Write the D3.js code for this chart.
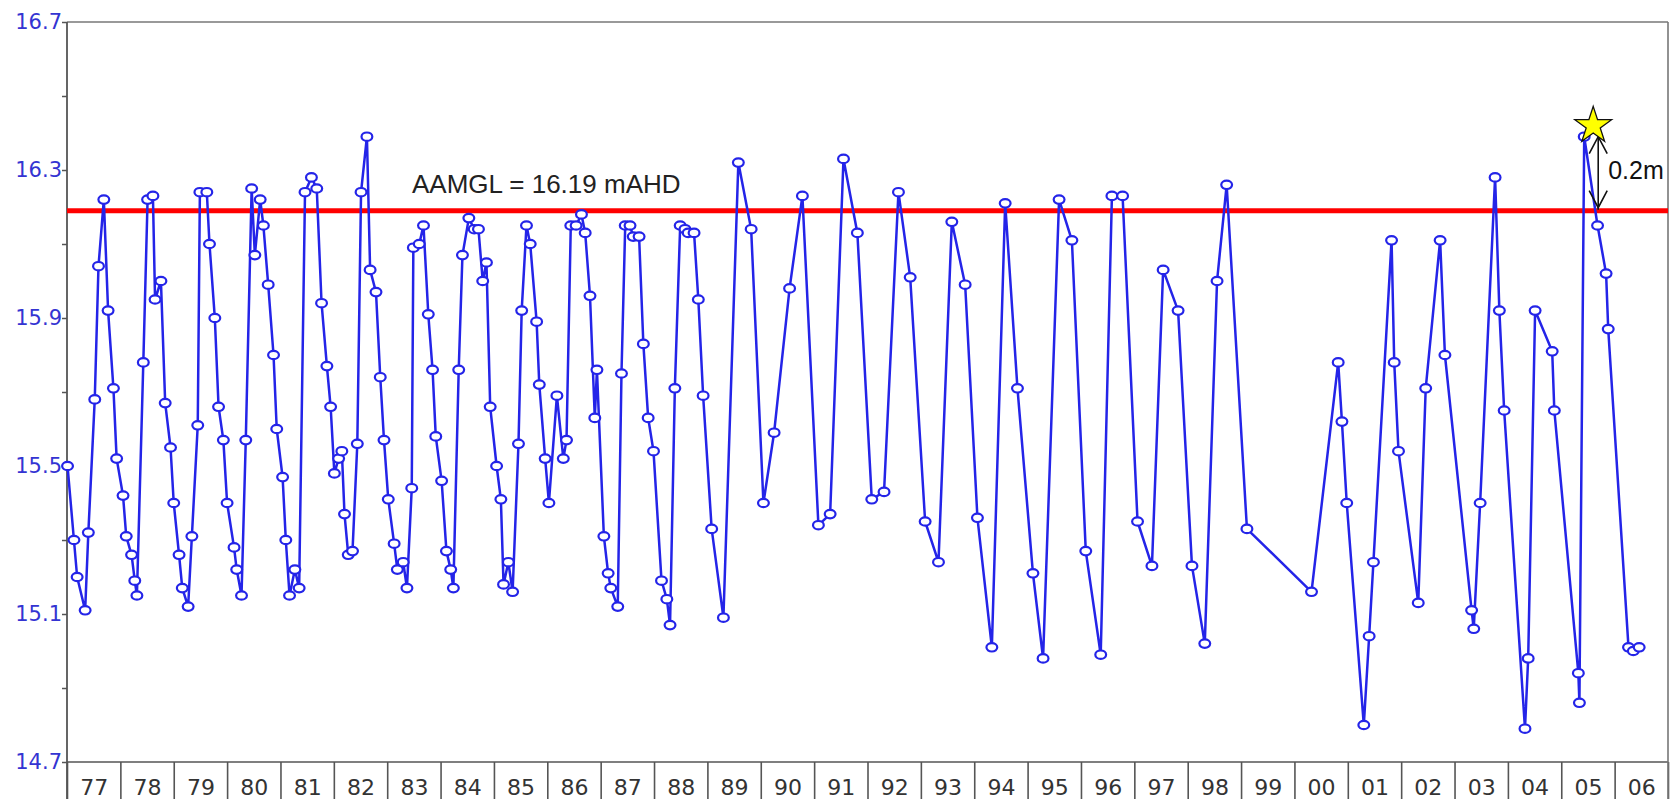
<!DOCTYPE html>
<html>
<head>
<meta charset="utf-8">
<script src="https://cdn.jsdelivr.net/npm/d3@7"></script>
<style>
  html, body { margin: 0; padding: 0; background: #fff; }
  svg { display: block; }
</style>
</head>
<body>
<svg id="chart" width="1677" height="799"></svg>
<script>
// Monitoring bore water level record, 1977 - 2006 (decimal years, mAHD)
const dates = [
  1977.01,1977.13,1977.19,1977.34,1977.40,1977.52,1977.59,1977.69,1977.77,1977.87,1977.93,
  1978.05,1978.11,1978.21,1978.27,1978.31,1978.43,1978.51,1978.61,1978.65,1978.76,1978.84,1978.94,
  1979.00,1979.10,1979.16,1979.27,1979.34,1979.45,1979.49,1979.62,1979.67,1979.77,1979.84,1979.93,
  1980.00,1980.13,1980.18,1980.27,1980.35,1980.46,1980.52,1980.62,1980.68,1980.77,1980.87,1980.93,
  1981.04,1981.10,1981.17,1981.27,1981.35,1981.46,1981.58,1981.68,1981.77,1981.87,1981.94,
  1982.01,1982.09,1982.15,1982.20,1982.27,1982.35,1982.44,1982.51,1982.62,1982.68,1982.79,1982.87,1982.94,
  1983.02,1983.13,1983.19,1983.30,1983.37,1983.46,1983.49,1983.60,1983.68,1983.77,1983.85,1983.91,
  1984.02,1984.11,1984.19,1984.24,1984.34,1984.41,1984.53,1984.63,1984.71,1984.79,1984.86,1984.93,
  1985.05,1985.13,1985.18,1985.27,1985.35,1985.46,1985.52,1985.61,1985.68,1985.80,1985.85,1985.96,
  1986.03,1986.18,1986.30,1986.36,1986.44,1986.54,1986.64,1986.71,1986.80,1986.89,1986.93,
  1987.06,1987.14,1987.19,1987.32,1987.39,1987.46,1987.55,1987.61,1987.72,1987.80,1987.89,1987.99,
  1988.14,1988.24,1988.30,1988.39,1988.49,1988.58,1988.64,1988.75,1988.83,1988.92,
  1989.08,1989.30,1989.58,1989.82,
  1990.05,1990.25,1990.54,1990.78,
  1991.08,1991.30,1991.55,1991.81,
  1992.08,1992.31,1992.58,1992.80,
  1993.08,1993.33,1993.58,1993.83,
  1994.06,1994.33,1994.58,1994.81,
  1995.10,1995.29,1995.59,1995.83,
  1996.09,1996.37,1996.58,1996.78,
  1997.06,1997.33,1997.54,1997.82,
  1998.08,1998.32,1998.55,1998.73,
  1999.11,
  2000.32,2000.82,2000.89,2000.98,
  2001.30,2001.40,2001.48,2001.82,2001.87,2001.95,
  2002.32,2002.46,2002.73,2002.82,
  2003.32,2003.36,2003.48,2003.76,2003.84,2003.93,
  2004.32,2004.38,2004.51,2004.83,2004.87,
  2005.32,2005.34,2005.43,2005.68,2005.84,2005.88,
  2006.26,2006.35,2006.46
];
const levels = [
  15.50,15.30,15.20,15.11,15.32,15.68,16.04,16.22,15.92,15.71,15.52,
  15.42,15.31,15.26,15.19,15.15,15.78,16.22,16.23,15.95,16.00,15.67,15.55,
  15.40,15.26,15.17,15.12,15.31,15.61,16.24,16.24,16.10,15.90,15.66,15.57,
  15.40,15.28,15.22,15.15,15.57,16.25,16.07,16.22,16.15,15.99,15.80,15.60,
  15.47,15.30,15.15,15.22,15.17,16.24,16.28,16.25,15.94,15.77,15.66,
  15.48,15.52,15.54,15.37,15.26,15.27,15.56,16.24,16.39,16.03,15.97,15.74,15.57,
  15.41,15.29,15.22,15.24,15.17,15.44,16.09,16.10,16.15,15.91,15.76,15.58,
  15.46,15.27,15.22,15.17,15.76,16.07,16.17,16.14,16.14,16.00,16.05,15.66,
  15.50,15.41,15.18,15.24,15.16,15.56,15.92,16.15,16.10,15.89,15.72,15.52,
  15.40,15.69,15.52,15.57,16.15,16.15,16.18,16.13,15.96,15.63,15.76,
  15.31,15.21,15.17,15.12,15.75,16.15,16.15,16.12,16.12,15.83,15.63,15.54,
  15.19,15.14,15.07,15.71,16.15,16.14,16.13,16.13,15.95,15.69,
  15.33,15.09,16.32,16.14,
  15.40,15.59,15.98,16.23,
  15.34,15.37,16.33,16.13,
  15.41,15.43,16.24,16.01,
  15.35,15.24,16.16,15.99,
  15.36,15.01,16.21,15.71,
  15.21,14.98,16.22,16.11,
  15.27,14.99,16.23,16.23,
  15.35,15.23,16.03,15.92,
  15.23,15.02,16.00,16.26,
  15.33,
  15.16,15.78,15.62,15.40,
  14.80,15.04,15.24,16.11,15.78,15.54,
  15.13,15.71,16.11,15.80,
  15.11,15.06,15.40,16.28,15.92,15.65,
  14.79,14.98,15.92,15.81,15.65,
  14.94,14.86,16.39,16.15,16.02,15.87,
  15.01,15.00,15.01
];

// Axis definitions
const yTickValues = [14.7, 14.9, 15.1, 15.3, 15.5, 15.7, 15.9, 16.1, 16.3, 16.5, 16.7];
const yLabelled   = [14.7, 15.1, 15.5, 15.9, 16.3, 16.7];
const yearStarts  = d3.range(1977, 2008);          // box dividers
const yearLabels  = ["77","78","79","80","81","82","83","84","85","86","87","88","89","90",
                     "91","92","93","94","95","96","97","98","99","00","01","02","03","04","05","06"];

// Reference level and annotation
const aamgl = 16.19;
const aamglText = "AAMGL = 16.19 mAHD";
const riseText = "0.2m";

const svg = d3.select("#chart");
const W = 1677, H = 799;
const plotL = 67, plotR = 1668, plotT = 22, plotB = 762;

const x = d3.scaleLinear().domain([1977, 2007]).range([plotL, plotR]);
const y = d3.scaleLinear().domain([14.7, 16.7]).range([plotB, plotT]);

const data = dates.map((d, i) => ({ t: d, v: levels[i] }));

const frameColor = "#555";
const blue = "#2424e8";

// Year boxes under the plot
const xBoxes = svg.append("g")
  .attr("transform", `translate(0,${plotB})`)
  .call(d3.axisBottom(x).tickValues(yearStarts).tickSize(H - plotB).tickFormat(""));
xBoxes.select(".domain").remove();
xBoxes.selectAll(".tick line").attr("stroke", frameColor).attr("stroke-width", 1.6);

const xLabels = svg.append("g")
  .attr("transform", `translate(0,${plotB})`)
  .call(d3.axisBottom(x)
    .tickValues(yearLabels.map((_, i) => 1977.5 + i))
    .tickSize(0)
    .tickPadding(0)
    .tickFormat((d, i) => yearLabels[i]));
xLabels.select(".domain").remove();
xLabels.selectAll(".tick text")
  .attr("y", 33)
  .attr("dy", 0)
  .attr("fill", "#333")
  .style("font-family", "'DejaVu Sans', sans-serif")
  .style("font-size", "22px");

// Y axis with ticks pointing outward
const yAxis = svg.append("g")
  .attr("transform", `translate(${plotL},0)`)
  .call(d3.axisLeft(y)
    .tickValues(yTickValues)
    .tickSize(5)
    .tickPadding(0)
    .tickFormat(d => yLabelled.some(v => Math.abs(v - d) < 1e-6) ? d.toFixed(1) : ""));
yAxis.select(".domain").remove();
yAxis.selectAll(".tick line").attr("stroke", frameColor).attr("stroke-width", 1.5);
yAxis.selectAll(".tick text")
  .attr("fill", "#3434d2")
  .attr("dy", "0.3em")
  .style("font-family", "'DejaVu Sans', sans-serif")
  .style("font-size", "21px");

// Plot frame
svg.append("line").attr("x1", plotL).attr("x2", plotR).attr("y1", plotT).attr("y2", plotT)
  .attr("stroke", "#777").attr("stroke-width", 1.4);
svg.append("line").attr("x1", plotL).attr("x2", plotR).attr("y1", plotB).attr("y2", plotB)
  .attr("stroke", frameColor).attr("stroke-width", 1.6);
svg.append("line").attr("x1", plotL).attr("x2", plotL).attr("y1", plotT).attr("y2", H)
  .attr("stroke", frameColor).attr("stroke-width", 1.8);
svg.append("line").attr("x1", plotR).attr("x2", plotR).attr("y1", plotT).attr("y2", H)
  .attr("stroke", "#777").attr("stroke-width", 1.6);

// AAMGL reference line
svg.append("line")
  .attr("x1", plotL).attr("x2", plotR)
  .attr("y1", y(aamgl)).attr("y2", y(aamgl))
  .attr("stroke", "#ff0000").attr("stroke-width", 5);

svg.append("text")
  .attr("x", 412).attr("y", y(aamgl) - 18)
  .attr("fill", "#222")
  .style("font-family", "'Liberation Sans', Arial, sans-serif")
  .style("font-size", "26px")
  .text(aamglText);

// Water level series
svg.append("path")
  .datum(data)
  .attr("fill", "none")
  .attr("stroke", blue)
  .attr("stroke-width", 2.5)
  .attr("stroke-linejoin", "round")
  .attr("d", d3.line().x(d => x(d.t)).y(d => y(d.v)));

svg.append("g").selectAll("ellipse")
  .data(data)
  .join("ellipse")
  .attr("cx", d => x(d.t))
  .attr("cy", d => y(d.v))
  .attr("rx", 5.4)
  .attr("ry", 4.2)
  .attr("fill", "#fff")
  .attr("stroke", blue)
  .attr("stroke-width", 2.2);

// Latest peak above AAMGL: star and rise arrow
const recent = data.filter(d => d.t >= 2005);
const peak = recent[d3.maxIndex(recent, d => d.v)];
const px = x(peak.t), py = y(peak.v);
const ax = px + 14;
const yTopArrow = y(peak.v), yBotArrow = y(aamgl);

const arrow = svg.append("g").attr("stroke", "#111").attr("stroke-width", 1.6).attr("fill", "none");
arrow.append("line").attr("x1", ax).attr("x2", ax).attr("y1", yTopArrow).attr("y2", yBotArrow - 1);
arrow.append("polyline").attr("points", `${ax - 9},${yTopArrow + 17} ${ax},${yTopArrow} ${ax + 9},${yTopArrow + 17}`);
arrow.append("polyline").attr("points", `${ax - 9},${yBotArrow - 20} ${ax},${yBotArrow - 3} ${ax + 9},${yBotArrow - 20}`);

svg.append("text")
  .attr("x", ax + 10).attr("y", (yTopArrow + yBotArrow) / 2 + 5)
  .attr("fill", "#111")
  .style("font-family", "'Liberation Sans', Arial, sans-serif")
  .style("font-size", "25px")
  .text(riseText);

svg.append("path")
  .attr("d", d3.symbol(d3.symbolStar).size(420)())
  .attr("transform", `translate(${px + 9},${py - 11})`)
  .attr("fill", "#ffff00")
  .attr("stroke", "#111")
  .attr("stroke-width", 1.3);
</script>
</body>
</html>
